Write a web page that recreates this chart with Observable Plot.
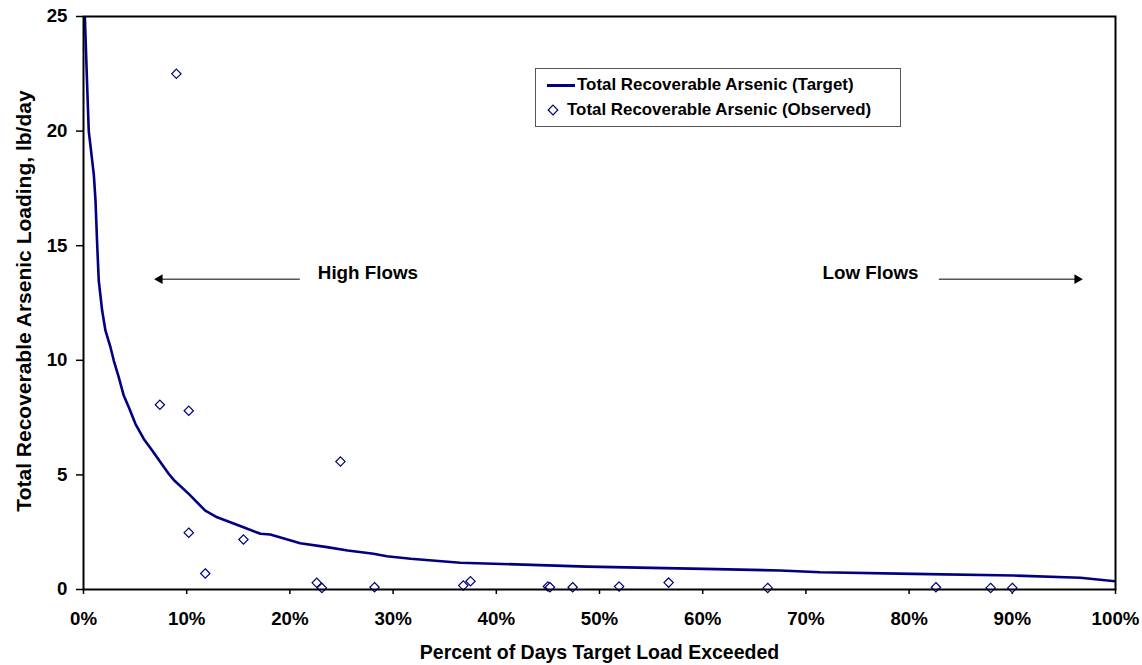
<!DOCTYPE html>
<html>
<head>
<meta charset="utf-8">
<script src="https://cdn.jsdelivr.net/npm/d3@7"></script>
<script src="https://cdn.jsdelivr.net/npm/@observablehq/plot@0.6"></script>
<style>
  html, body { margin: 0; padding: 0; background: white; }
  #wrap { position: relative; width: 1142px; height: 665px; font-family: "Liberation Sans", Arial, sans-serif; font-weight: bold; }
  #legend { position: absolute; left: 535px; top: 68px; width: 366px; height: 59px; border: 1px solid #555; background: white; box-sizing: border-box; }
  #legend .t { position: absolute; font-size: 16.9px; line-height: 20px; white-space: nowrap; color: #000; }
</style>
</head>
<body>
<div id="wrap">
  <div id="chart"></div>
  <div id="legend">
    <div style="position:absolute;left:11px;top:15px;width:28px;height:2.6px;background:#000080"></div>
    <div class="t" style="left:41px;top:6px">Total Recoverable Arsenic (Target)</div>
    <svg style="position:absolute;left:11px;top:35px" width="12" height="12"><path d="M6,1.2L10.8,6L6,10.8L1.2,6Z" fill="white" stroke="#000080" stroke-width="1.2"/></svg>
    <div class="t" style="left:31px;top:31px">Total Recoverable Arsenic (Observed)</div>
  </div>
</div>
<script>
// Target load duration curve (percent of days exceeded, lb/day)
const targetPct = [0.1, 0.36, 0.51, 1.0, 1.16, 1.33, 1.48, 1.81, 2.13, 2.62, 2.94, 3.42, 3.9, 4.39, 5.04, 5.84, 6.66, 7.46, 8.27, 8.75, 10.2, 11.8, 12.95, 15.5, 17.15, 18.1, 21, 23.6, 25.6, 28.1, 29.4, 31.7, 36.5, 48.8, 60.1, 67.5, 71.4, 80.4, 90.1, 96.6, 100];
const targetLoad = [25.4, 21.9, 20.0, 18.1, 17.0, 15.0, 13.47, 12.16, 11.29, 10.56, 9.98, 9.25, 8.46, 7.95, 7.22, 6.57, 6.06, 5.55, 5.04, 4.78, 4.17, 3.44, 3.15, 2.72, 2.43, 2.4, 2.02, 1.85, 1.70, 1.56, 1.45, 1.34, 1.17, 1.0, 0.90, 0.83, 0.75, 0.68, 0.61, 0.51, 0.36];

// Observed loads
const obsPct = [9.0, 7.4, 10.2, 10.2, 11.8, 15.5, 24.9, 22.6, 23.1, 28.2, 36.8, 37.5, 45.0, 45.2, 47.4, 51.9, 56.7, 66.3, 82.6, 87.9, 90.0];
const obsLoad = [22.5, 8.06, 7.8, 2.48, 0.70, 2.18, 5.58, 0.29, 0.07, 0.10, 0.17, 0.36, 0.13, 0.10, 0.10, 0.13, 0.30, 0.07, 0.10, 0.07, 0.07];

// Axis ticks
const xTicks = [0, 10, 20, 30, 40, 50, 60, 70, 80, 90, 100];
const yTicks = [0, 5, 10, 15, 20, 25];

// Annotations
const flowLabels = ["High Flows", "Low Flows"];
const flowLabelX = [27.56, 76.26];
const flowLabelY = [13.8, 13.8];
const arrowFromX = [20.96, 82.88];
const arrowToX = [7.39, 96.29];
const arrowY = [13.54, 13.54];

const navy = "#000080";
const curve = targetPct.map((x, i) => ({x, y: targetLoad[i]}));
const obs = obsPct.map((x, i) => ({x, y: obsLoad[i]}));
const labels = flowLabels.map((t, i) => ({t, x: flowLabelX[i], y: flowLabelY[i]}));
const arrows = arrowFromX.map((x1, i) => ({x1, x2: arrowToX[i], y: arrowY[i], dir: x1 > arrowToX[i] ? -1 : 1}));

const chart = Plot.plot({
  width: 1142,
  height: 665,
  marginLeft: 83,
  marginRight: 27,
  marginTop: 16,
  marginBottom: 76,
  style: {fontFamily: "'Liberation Sans', Arial, sans-serif", fontSize: "18.7px", fontWeight: "bold", background: "white", color: "black"},
  x: {domain: [0, 100]},
  y: {domain: [0, 25]},
  marks: [
    Plot.axisX({ticks: xTicks, tickFormat: d => d + "%", tickSize: 5, tickPadding: 17.5, label: null, strokeWidth: 1.5, fontSize: 18.7}),
    Plot.axisY({ticks: yTicks, tickSize: 7, tickPadding: 9, label: null, strokeWidth: 1.5, fontSize: 18.7}),
    Plot.line(curve, {x: "x", y: "y", stroke: navy, strokeWidth: 2.6, clip: true}),
    Plot.dot(obs, {x: "x", y: "y", symbol: "diamond2", r: 4.2, stroke: navy, fill: "white", strokeWidth: 1.2}),
    Plot.link(arrows, {x1: "x1", x2: "x2", y1: "y", y2: "y", stroke: "black", strokeWidth: 1}),
    Plot.dot(arrows, {x: "x2", y: "y", symbol: "triangle", r: 3.6, fill: "black", stroke: null, rotate: d => d.dir * 90}),
    Plot.text(labels, {x: "x", y: "y", text: "t", fontSize: 18.8, fontWeight: "bold", fill: "black"}),
    Plot.text(["Total Recoverable Arsenic Loading, lb/day"], {frameAnchor: "left", dx: -53, dy: -2, rotate: -90, lineAnchor: "bottom", textAnchor: "middle", fontSize: 21, fontWeight: "bold", fill: "black"}),
    Plot.text(["Percent of Days Target Load Exceeded"], {frameAnchor: "bottom", dy: 69, lineAnchor: "bottom", textAnchor: "middle", fontSize: 19.5, fontWeight: "bold", fill: "black"}),
    Plot.frame({stroke: "black", strokeWidth: 2})
  ]
});
document.getElementById("chart").appendChild(chart);
</script>
</body>
</html>
